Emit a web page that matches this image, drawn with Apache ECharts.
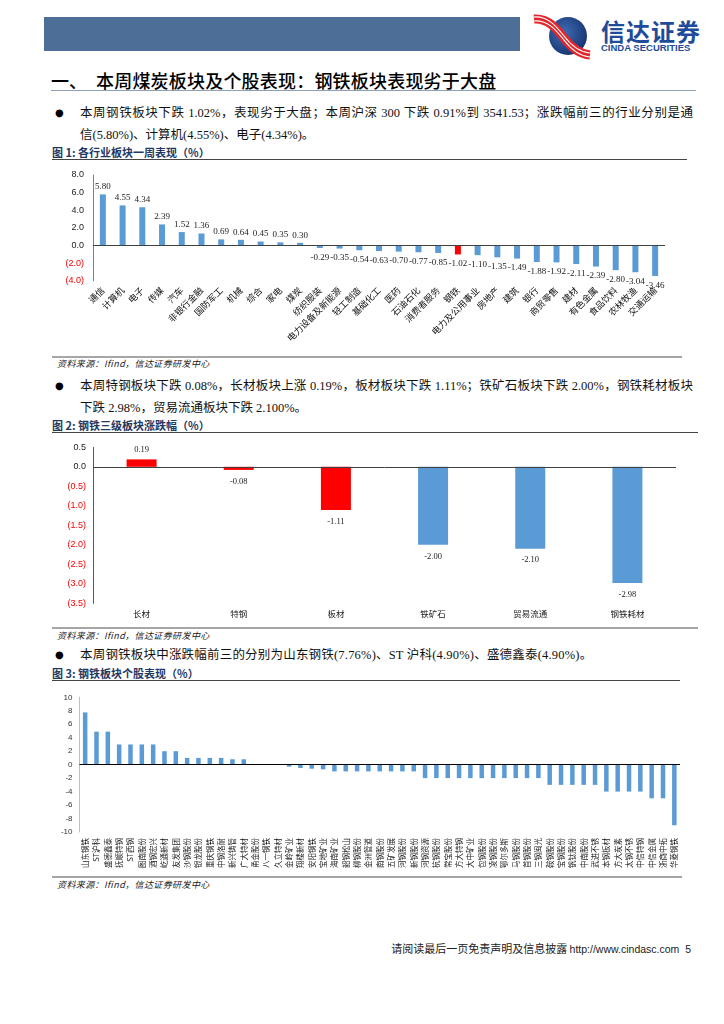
<!DOCTYPE html>
<html><head><meta charset="utf-8">
<script src="https://cdn.jsdelivr.net/npm/echarts@6/dist/echarts.min.js"></script>
<style>
html,body{margin:0;padding:0;background:#fff;}
#page{position:relative;width:724px;height:1024px;overflow:hidden;font-family:"Liberation Serif","Noto Sans CJK SC",serif;}
.abs{position:absolute;white-space:nowrap;}
.hl{position:absolute;height:0;}
.body{font-size:12.5px;color:#111;line-height:18px;height:18px;}
.just{text-align:justify;text-align-last:justify;white-space:normal;overflow:hidden;}
.bul{font-family:"DejaVu Sans";font-size:10px;color:#000;line-height:18px;}
.fig{font-family:"Noto Sans CJK SC";font-weight:bold;font-size:11px;color:#1F3864;line-height:14px;}
.src{font-family:"Noto Sans CJK SC";font-style:italic;font-size:9px;letter-spacing:0.4px;color:#222;line-height:12px;}
#chart{position:absolute;left:0;top:0;width:724px;height:1024px;}
</style></head>
<body>
<div id="page">
  <div class="abs" style="left:44px;top:17px;width:476px;height:34px;background:#4C6E97;"></div>
  <svg class="abs" style="left:528px;top:12px;" width="72" height="48" viewBox="0 0 72 48">
    <defs><radialGradient id="g" cx="40%" cy="40%" r="70%"><stop offset="0" stop-color="#3D6DB5"/><stop offset="1" stop-color="#142F6B"/></radialGradient></defs>
    <circle cx="40" cy="24" r="19" fill="url(#g)"/>
    <path d="M6,7 C20,6 28,16 36,26 C42,34 50,42 62,43" stroke="#E3262B" stroke-width="9" fill="none"/>
    <path d="M6,5 C20,4 28,14 36,24 C42,32 50,40 62,41" stroke="#fff" stroke-width="1.2" fill="none"/>
    <path d="M6,9 C20,8 28,18 36,28 C42,36 50,44 62,45" stroke="#fff" stroke-width="1.2" fill="none"/>
  </svg>
  <div class="abs" style="left:601px;top:17px;font-family:'Noto Sans CJK SC';font-weight:bold;font-size:24px;letter-spacing:1px;color:#1E4C9A;line-height:28px;">信达证券</div>
  <div class="abs" style="left:601px;top:43px;font-family:'Liberation Sans';font-weight:bold;font-size:9.5px;color:#1E4C9A;line-height:10px;">CINDA SECURITIES</div>

  <div class="abs" style="left:51px;top:69px;font-family:'Noto Sans CJK SC';font-size:18px;font-weight:500;color:#000;line-height:22px;">一、</div>
  <div class="abs" style="left:96px;top:69px;font-family:'Noto Sans CJK SC';font-size:18px;font-weight:500;color:#000;line-height:22px;letter-spacing:0.2px;">本周煤炭板块及个股表现：钢铁板块表现劣于大盘</div>
  <div class="hl" style="left:51px;top:90px;width:645px;border-top:1.5px solid #8DA0B8;"></div>

  <div class="abs bul" style="left:55px;top:104px;">●</div>
  <div class="abs body just" style="left:80px;top:104px;width:613px;">本周钢铁板块下跌 1.02%，表现劣于大盘；本周沪深 300 下跌 0.91%到 3541.53；涨跌幅前三的行业分别是通</div>
  <div class="abs body" style="left:80px;top:126px;">信(5.80%)、计算机(4.55%)、电子(4.34%)。</div>
  <div class="abs fig" style="left:52px;top:145px;">图 1:&nbsp;各行业板块一周表现（%）</div>
  <div class="hl" style="left:52px;top:159px;width:635px;border-top:1px solid #444;"></div>
  <div class="hl" style="left:52px;top:356px;width:630px;border-top:2px solid #A6A6A6;"></div>
  <div class="abs src" style="left:57px;top:358px;">资料来源：Ifind，信达证券研发中心</div>

  <div class="abs bul" style="left:55px;top:377px;">●</div>
  <div class="abs body just" style="left:80px;top:377px;width:613px;">本周特钢板块下跌 0.08%，长材板块上涨 0.19%，板材板块下跌 1.11%；铁矿石板块下跌 2.00%，钢铁耗材板块</div>
  <div class="abs body" style="left:80px;top:399px;">下跌 2.98%，贸易流通板块下跌 2.100%。</div>
  <div class="abs fig" style="left:52px;top:418px;">图 2:&nbsp;钢铁三级板块涨跌幅（%）</div>
  <div class="hl" style="left:52px;top:432px;width:646px;border-top:1px solid #444;"></div>
  <div class="hl" style="left:52px;top:627px;width:646px;border-top:2px solid #A6A6A6;"></div>
  <div class="abs src" style="left:57px;top:630px;">资料来源：Ifind，信达证券研发中心</div>

  <div class="abs bul" style="left:55px;top:646px;">●</div>
  <div class="abs body" style="left:80px;top:646px;letter-spacing:0.2px;">本周钢铁板块中涨跌幅前三的分别为山东钢铁(7.76%)、ST 沪科(4.90%)、盛德鑫泰(4.90%)。</div>
  <div class="abs fig" style="left:52px;top:666px;">图 3:&nbsp;钢铁板块个股表现（%）</div>
  <div class="hl" style="left:52px;top:680px;width:628px;border-top:1px solid #444;"></div>
  <div class="hl" style="left:52px;top:876px;width:630px;border-top:2px solid #A6A6A6;"></div>
  <div class="abs src" style="left:57px;top:879px;">资料来源：Ifind，信达证券研发中心</div>

  <div class="abs" style="right:33px;top:941px;font-family:'Noto Sans CJK SC';font-size:11px;color:#222;line-height:14px;">请阅读最后一页免责声明及信息披露 <span style="font-family:'Liberation Sans';font-size:10.5px;">http://www.cindasc.com&nbsp;&nbsp;5</span></div>

  <div id="chart"></div>
</div>
<script>
// ---- Figure 1: industry weekly performance (%)
const cat1 = ['通信','计算机','电子','传媒','汽车','非银行金融','国防军工','机械','综合','家电','煤炭','纺织服装','电力设备及新能源','轻工制造','基础化工','医药','石油石化','消费者服务','钢铁','电力及公用事业','房地产','建筑','银行','商贸零售','建材','有色金属','食品饮料','农林牧渔','交通运输'];
const val1 = [5.80,4.55,4.34,2.39,1.52,1.36,0.69,0.64,0.45,0.35,0.30,-0.29,-0.35,-0.54,-0.63,-0.70,-0.77,-0.85,-1.02,-1.10,-1.35,-1.49,-1.88,-1.92,-2.11,-2.39,-2.80,-3.04,-3.46];
const highlight1 = '钢铁';

// ---- Figure 2: steel sub-sectors (%)
const cat2 = ['长材','特钢','板材','铁矿石','贸易流通','钢铁耗材'];
const val2 = [0.19,-0.08,-1.11,-2.00,-2.10,-2.98];
const colors2 = ['#FF0000','#FF0000','#FF0000','#5B9BD5','#5B9BD5','#5B9BD5'];

// ---- Figure 3: individual steel stocks (%)
const cat3 = ['山东钢铁','ST沪科','盛德鑫泰','抚顺特钢','ST西钢','图南股份','酒钢宏兴','屹通新材','友发集团','沙钢股份','银龙股份','重庆钢铁','中钢洛耐','新兴铸管','广大特材','甬金股份','八一钢铁','久立特材','金岭矿业','翔楼新材','安阳钢铁','宝地矿业','海南矿业','韶钢松山','柳钢股份','金洲管道','南钢股份','五矿发展','河钢股份','新钢股份','河钢资源','杭钢股份','常宝股份','方大特钢','大中矿业','包钢股份','凌钢股份','鄂尔多斯','马钢股份','首钢股份','三钢闽光','鞍钢股份','宝钢股份','钒钛股份','中南股份','武进不锈','本钢板材','方大炭素','太钢不锈','中信特钢','中信金属','浙商中拓','华菱钢铁'];
const val3 = [7.76,4.90,4.90,3.0,3.0,3.0,3.0,2.0,2.0,1.0,1.0,1.0,1.0,0.8,0.8,0,0,0,-0.3,-0.5,-0.6,-0.7,-1.0,-1.0,-1.0,-1.0,-1.0,-1.0,-1.0,-1.0,-2.0,-2.0,-2.0,-2.0,-2.0,-2.0,-2.0,-2.0,-2.0,-2.0,-2.0,-3.0,-3.0,-3.0,-3.0,-3.0,-4.0,-4.0,-4.0,-4.0,-5.0,-5.0,-9.0];

const BLUE = '#5B9BD5';
const zeroLine = c => ({silent:true, symbol:['none','none'], label:{show:false}, lineStyle:{color:c,width:1,type:'solid'}, data:[{yAxis:0}], animation:false});
const neg = v => parseFloat(v) < 0;

const chart = echarts.init(document.getElementById('chart'), null, {renderer:'canvas'});
chart.setOption({
  animation:false,
  grid:[
    {left:93, top:175, width:572, height:105.7, outerBoundsMode:'none'},
    {left:93, top:447.3, width:583, height:156, outerBoundsMode:'none'},
    {left:79.5, top:697.3, width:600.5, height:134.7, outerBoundsMode:'none'}
  ],
  xAxis:[
    {type:'category', gridIndex:0, data:cat1, axisLine:{show:false,onZero:false}, axisTick:{show:false},
     axisLabel:{interval:0, rotate:45, margin:8, fontSize:9, fontFamily:'Noto Sans CJK SC', color:'#111'}},
    {type:'category', gridIndex:1, data:cat2, axisLine:{show:false,onZero:false}, axisTick:{show:false},
     axisLabel:{interval:0, margin:6, fontSize:8.5, fontFamily:'Noto Sans CJK SC', color:'#222'}},
    {type:'category', gridIndex:2, data:cat3, axisLine:{show:false,onZero:false}, axisTick:{show:false},
     axisLabel:{interval:0, rotate:90, margin:6, fontSize:7.5, fontFamily:'Noto Sans CJK SC', color:'#222'}}
  ],
  yAxis:[
    {type:'value', gridIndex:0, min:-4, max:8, interval:2, splitLine:{show:false}, axisTick:{show:false},
     axisLine:{show:true, lineStyle:{color:'#7F7F7F'}},
     axisLabel:{margin:9, fontSize:9, fontFamily:'Liberation Sans',
       formatter:v => v<0 ? '('+Math.abs(v).toFixed(1)+')' : v.toFixed(1),
       color:v => neg(v) ? '#FF0000' : '#222'}},
    {type:'value', gridIndex:1, min:-3.5, max:0.5, interval:0.5, splitLine:{show:false}, axisTick:{show:false},
     axisLine:{show:true, lineStyle:{color:'#595959'}},
     axisLabel:{margin:7, fontSize:9, fontFamily:'Liberation Sans',
       formatter:v => v<0 ? '('+Math.abs(v).toFixed(1)+')' : v.toFixed(1),
       color:v => neg(v) ? '#FF0000' : '#222'}},
    {type:'value', gridIndex:2, min:-10, max:10, interval:2, splitLine:{show:false}, axisTick:{show:false},
     axisLine:{show:true, lineStyle:{color:'#BFBFBF'}},
     axisLabel:{margin:7, fontSize:8, fontFamily:'Liberation Sans', color:'#333'}}
  ],
  series:[
    {type:'bar', xAxisIndex:0, yAxisIndex:0, barWidth:6,
     data:val1.map((v,i)=>({value:v, itemStyle:{color: cat1[i]===highlight1 ? '#FF0000' : BLUE},
       label:{position: v>=0 ? 'top' : 'bottom', distance: v>=0 ? 3 : 5}})),
     label:{show:true, formatter:p=>p.value.toFixed(2), fontFamily:'Liberation Serif', fontSize:9, color:'#222'},
     markLine:zeroLine('#404040')},
    {type:'bar', xAxisIndex:1, yAxisIndex:1, barWidth:30,
     data:val2.map((v,i)=>({value:v, itemStyle:{color:colors2[i]},
       label:{position: v>=0 ? 'top' : 'bottom', distance: v>=0 ? 5 : 7}})),
     label:{show:true, formatter:p=>p.value.toFixed(2), fontFamily:'Liberation Serif', fontSize:8.5, color:'#222'},
     markLine:zeroLine('#404040')},
    {type:'bar', xAxisIndex:2, yAxisIndex:2, barWidth:4.5,
     data:val3, itemStyle:{color:BLUE},
     markLine:zeroLine('#000')}
  ]
});
</script>
</body></html>
